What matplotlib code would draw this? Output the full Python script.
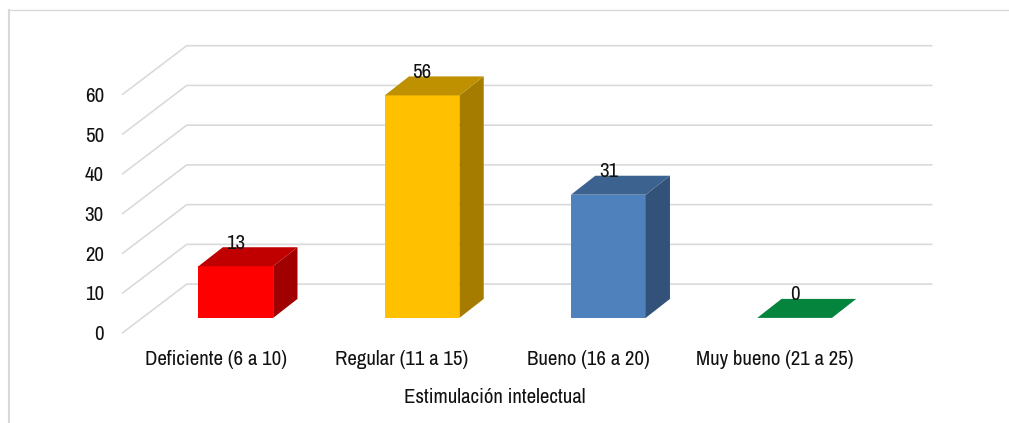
import matplotlib
matplotlib.use("Agg")
import logging
import matplotlib.pyplot as plt
from matplotlib.patches import Polygon

logging.getLogger("matplotlib.font_manager").setLevel(logging.ERROR)
plt.rcParams['font.family'] = ['Archivo Narrow', 'Liberation Sans', 'DejaVu Sans']

categories = ["Deficiente (6 a 10)", "Regular (11 a 15)", "Bueno (16 a 20)", "Muy bueno (21 a 25)"]
values = [13, 56, 31, 0]
front_colors = ["#FF0000", "#FFC000", "#4F81BD", "#00843D"]
top_colors = ["#C00000", "#BF9000", "#3C6390", "#05843E"]
side_colors = ["#A00000", "#A67C00", "#335279", "#00642D"]
y_ticks = [0, 10, 20, 30, 40, 50, 60]
x_title = "Estimulación intelectual"

W, H = 1009, 423
fig = plt.figure(figsize=(W / 100, H / 100), dpi=100, facecolor="white")

L, R, B, T = 122.7, 867.7, 332.7, 94.3
ax = fig.add_axes([L / W, 1 - B / H, (R - L) / W, (B - T) / H])
ax.set_xlim(-0.5, 3.5)
ax.set_ylim(0, 60)
for s in ax.spines.values():
    s.set_visible(False)
ax.patch.set_visible(False)

xpx = (R - L) / 4
ypx = (B - T) / 60
wall_dx, wall_dy = 64 / xpx, 48.6 / ypx      # depth of the chart box
bar_dx, bar_dy = 24.3 / xpx, 19 / ypx        # depth of a bar
off_x, off_y = 20 / xpx, 14.8 / ypx          # bars' front plane behind the box front
bar_w = 74.7 / xpx
TXT = "#111111"
FS = 15

for v in y_ticks:
    ax.plot([-0.5, -0.5 + wall_dx, 3.5 + wall_dx], [v, v + wall_dy, v + wall_dy],
            color="#D9D9D9", lw=1.15, clip_on=False, zorder=1, solid_joinstyle="round")

xs = list(range(len(categories)))
for x, v, fc, tc, sc in zip(xs, values, front_colors, top_colors, side_colors):
    x0, x1 = x + off_x - bar_w / 2, x + off_x + bar_w / 2
    y0, y1 = off_y, off_y + v
    ax.bar(x + off_x, v, width=bar_w, bottom=off_y, color=fc, clip_on=False, zorder=3)
    ax.add_patch(Polygon([(x1, y0), (x1 + bar_dx, y0 + bar_dy), (x1 + bar_dx, y1 + bar_dy), (x1, y1)],
                         closed=True, fc=sc, ec="none", clip_on=False, zorder=3))
    ax.add_patch(Polygon([(x0, y1), (x1, y1), (x1 + bar_dx, y1 + bar_dy), (x0 + bar_dx, y1 + bar_dy)],
                         closed=True, fc=tc, ec="none", clip_on=False, zorder=4))
    ax.annotate(str(v), (x + off_x, y1), xytext=(0, 23 * 0.72), textcoords="offset points",
                ha="center", va="center", fontsize=FS, color=TXT, zorder=5, annotation_clip=False)

ax.set_xticks(xs, categories)
ax.set_yticks(y_ticks)
ax.tick_params(axis="both", length=0, labelsize=FS, labelcolor=TXT)
ax.tick_params(axis="y", pad=13.5)
ax.tick_params(axis="x", pad=12.7)
ax.set_xlabel(x_title, fontsize=FS, color=TXT, labelpad=13.3)

# chart-area frame: left edge and top edge, running off the image
fig.add_artist(plt.Line2D([9.3 / W, 9.3 / W], [0, 1 - 10 / H], color="#D9D9D9", lw=1.5))
fig.add_artist(plt.Line2D([9.3 / W, 1], [1 - 10.5 / H, 1 - 10.5 / H], color="#D9D9D9", lw=1.0))

fig.savefig("out.png", dpi=100, facecolor="white")
